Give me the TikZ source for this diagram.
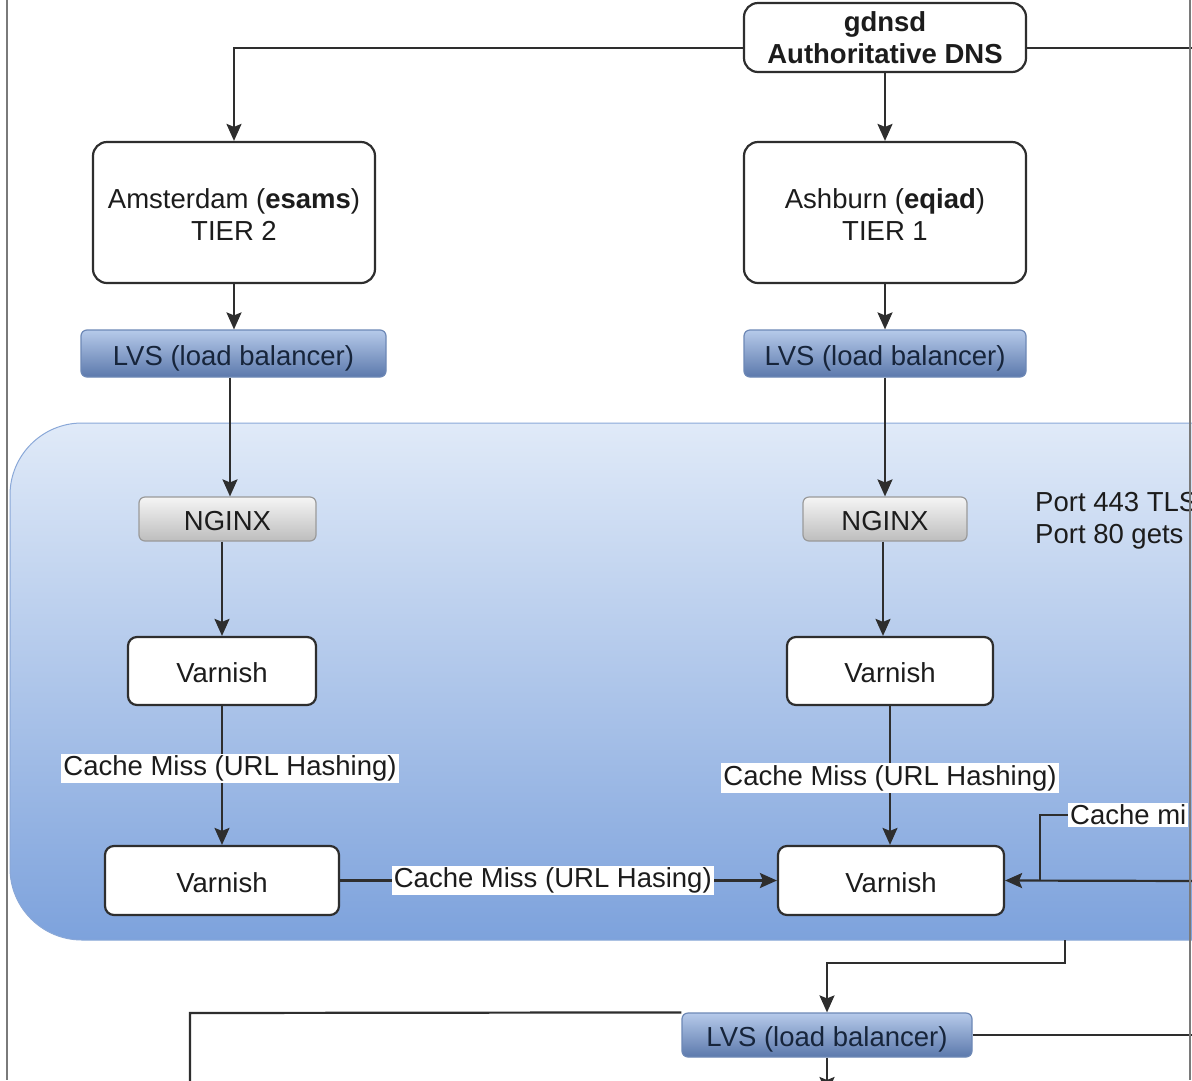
\documentclass[tikz,border=0pt]{standalone}
\usepackage{fontspec}
\setmainfont{Liberation Sans}
\usetikzlibrary{arrows.meta,calc}
\definecolor{ln}{HTML}{2E2E2E}
\definecolor{txt}{HTML}{1C1C1C}
\definecolor{frame}{HTML}{7A7A7A}
\definecolor{panelb}{HTML}{8AA8D8}
\definecolor{panelt}{HTML}{E0EAF8}
\definecolor{panelbot}{HTML}{7DA2DC}
\definecolor{lvst}{HTML}{B6CAEA}
\definecolor{lvsbot}{HTML}{5C79AC}
\definecolor{lvsb}{HTML}{6D88B6}
\definecolor{lvstext}{HTML}{17253B}
\definecolor{ngt}{HTML}{F5F5F5}
\definecolor{ngbot}{HTML}{BDBDBD}
\definecolor{ngb}{HTML}{9A9A9A}
\newcommand\mysize{\fontsize{27.5}{32}\selectfont}
\tikzset{
  box/.style={draw=ln, line width=2.2pt, rounded corners=14pt, fill=white, align=center, inner sep=0pt, font=\mysize, text=txt},
  one/.style={text height=23.5pt, text depth=0pt},
  vbox/.style={box, one, rounded corners=9pt},
  lvsbox/.style={draw=lvsb, line width=1.2pt, rounded corners=6pt, top color=lvst, bottom color=lvsbot, inner sep=0pt, font=\mysize, text=lvstext, one},
  ngbox/.style={draw=ngb, line width=1.2pt, rounded corners=6pt, top color=ngt, bottom color=ngbot, inner sep=0pt, font=\mysize, text=txt, one},
  conn/.style={draw=ln, line width=2.2pt},
  arr/.style={conn, -{Stealth[length=17pt,width=15pt,inset=3pt]}},
  lbl/.style={fill=white, inner sep=2pt, font=\mysize, text=txt},
  plain/.style={inner sep=0pt, font=\mysize, text=txt, align=left}
}
\begin{document}
\begin{tikzpicture}[x=1pt,y=-1pt]
\useasboundingbox (0,0) rectangle (1192,1080);
\clip (0,0) rectangle (1192,1080);
\fill[white] (0,0) rectangle (1192,1080);

% blue panel
\path[draw=panelb, line width=1pt, top color=panelt, bottom color=panelbot, rounded corners=72pt] (10,423) rectangle (1290,940);

% nodes
\node[box, minimum width=282pt, minimum height=69pt] (gd) at (885,37.5) {\textbf{gdnsd}\\\textbf{Authoritative DNS}};
\node[box, minimum width=282pt, minimum height=141pt] (ams) at (234,212.5) {\rule{0pt}{24pt}Amsterdam (\textbf{esams})\\TIER 2};
\node[box, minimum width=282pt, minimum height=141pt] (ash) at (885,212.5) {\rule{0pt}{24pt}Ashburn (\textbf{eqiad})\\TIER 1};
\node[lvsbox, minimum width=305pt, minimum height=47pt] (lvsa) at (233.5,353.5) {LVS (load balancer)};
\node[lvsbox, minimum width=282pt, minimum height=47pt] (lvsb) at (885,353.5) {LVS (load balancer)};
\node[ngbox, minimum width=177pt, minimum height=44pt] (ngxa) at (227.5,519) {NGINX};
\node[ngbox, minimum width=164pt, minimum height=44pt] (ngxb) at (885,519) {NGINX};
\node[vbox, minimum width=188pt, minimum height=68pt] (va) at (222,671) {Varnish};
\node[vbox, minimum width=206pt, minimum height=68pt] (vb) at (890,671) {Varnish};
\node[vbox, minimum width=234pt, minimum height=69pt] (vc) at (222,880.5) {Varnish};
\node[vbox, minimum width=226pt, minimum height=69pt] (vd) at (891,880.5) {Varnish};
\node[lvsbox, minimum width=290pt, minimum height=44pt] (lvsc) at (827,1035) {LVS (load balancer)};
\node[plain, anchor=north west] (port) at (1035,492) {Port 443 TLS\\Port 80 gets};
\node[lbl, anchor=west] (cm) at (1068,815) {Cache mi};

% free ends
\coordinate (re) at (1200,48);
\coordinate (rin) at (1200,881);
\coordinate (br) at (1040,881);
\coordinate (pb) at (1065,940);
\coordinate (lowl) at (190,1090);
\coordinate (lowr) at (1200,1035);
\coordinate (lowd) at (827,1094);

% connectors
\draw[arr] ([yshift=-10.5pt]gd.west) -| (ams.north);
\draw[conn] ([yshift=-10.5pt]gd.east) -- (re);
\draw[arr] (gd.south) -- (ash.north);
\draw[arr] (ams.south) -- (ams.south |- lvsa.north);
\draw[arr] (ash.south) -- (lvsb.north);
\draw[arr] (lvsa.south -| 230,0) -- (230,0 |- ngxa.north);
\draw[arr] (lvsb.south) -- (ngxb.north);
\draw[arr] (ngxa.south -| va.north) -- (va.north);
\draw[arr] (ngxb.south -| 883,0) -- (883,0 |- vb.north);
\draw[arr] (va.south) -- node[lbl, pos=0.45, xshift=8pt] {Cache Miss (URL Hashing)} (vc.north);
\draw[arr] (vb.south) -- node[lbl, pos=0.52] {Cache Miss (URL Hashing)} (vb.south |- vd.north);
\draw[arr] (vc.east) -- node[lbl, pos=0.487] {Cache Miss (URL Hasing)} (vd.west);
\draw[arr] (rin) -- (vd.east);
\draw[conn] (br) |- (cm.west);
\draw[arr] (pb) -- (1065,963) -| (lvsc.north);
\draw[conn] (lvsc.north west) -- (190,1013) -- (lowl);
\draw[conn] (lvsc.east) -- (lowr);
\draw[arr] (lvsc.south) -- (lowd);

% frame lines
\draw[frame, line width=2pt] (7,0) -- (7,1080);
\draw[frame, line width=2pt] (1190,0) -- (1190,1080);
\end{tikzpicture}
\end{document}
